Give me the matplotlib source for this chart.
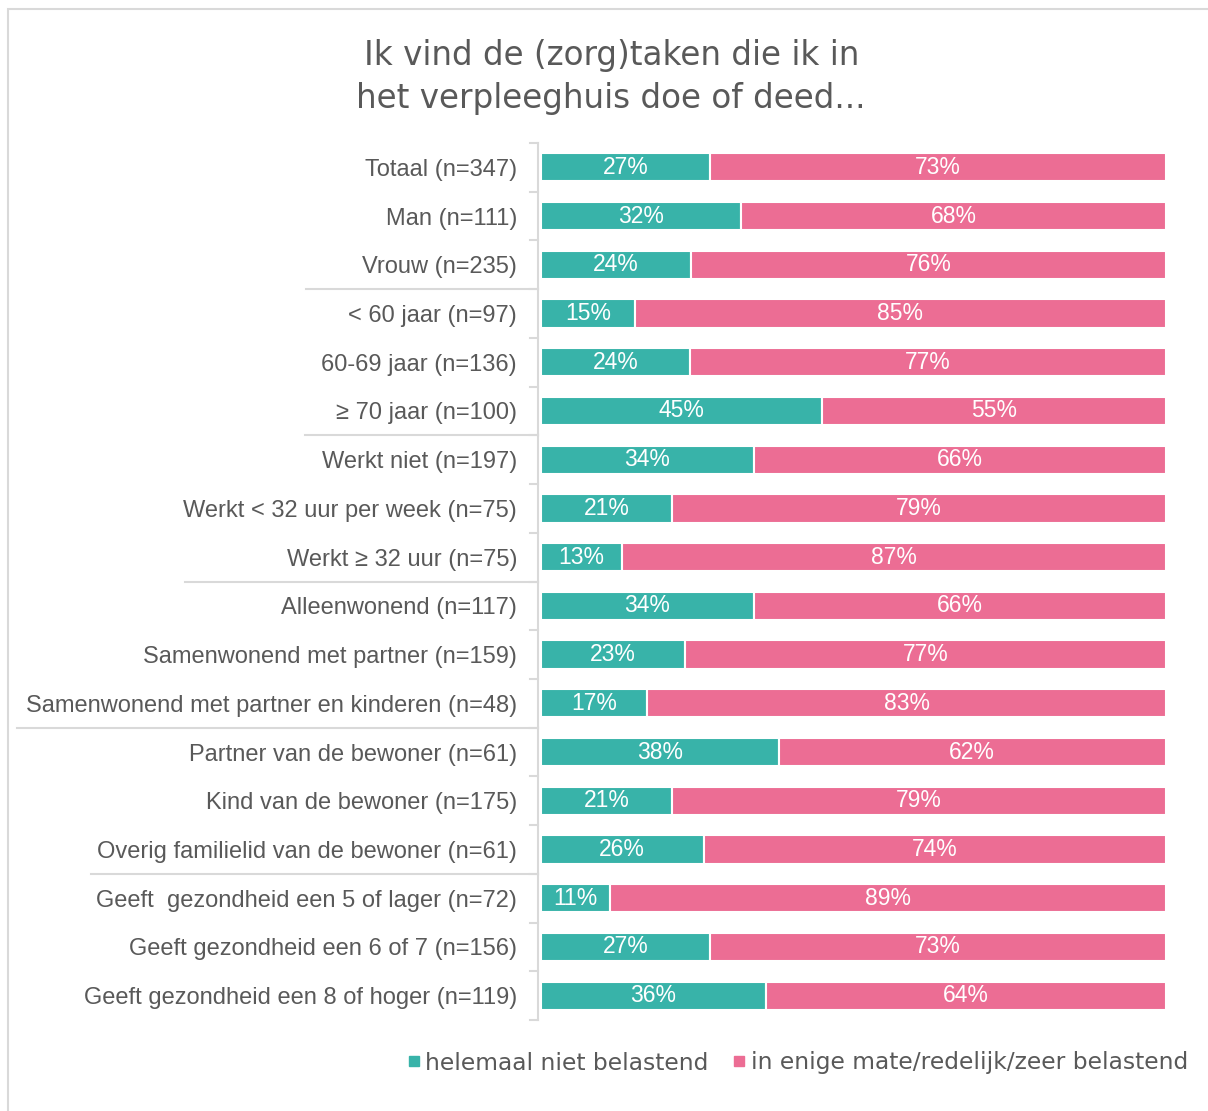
import numpy as np
import matplotlib
matplotlib.use("Agg")
import matplotlib.pyplot as plt
from matplotlib.lines import Line2D
from matplotlib.patches import Rectangle

plt.rcParams["font.family"] = ["Liberation Sans", "DejaVu Sans"]

categories = [
    "Totaal (n=347)", "Man (n=111)", "Vrouw (n=235)",
    "< 60 jaar (n=97)", "60-69 jaar (n=136)", "\u2265 70 jaar (n=100)",
    "Werkt niet (n=197)", "Werkt < 32 uur per week (n=75)", "Werkt \u2265 32 uur (n=75)",
    "Alleenwonend (n=117)", "Samenwonend met partner (n=159)",
    "Samenwonend met partner en kinderen (n=48)",
    "Partner van de bewoner (n=61)", "Kind van de bewoner (n=175)",
    "Overig familielid van de bewoner (n=61)",
    "Geeft  gezondheid een 5 of lager (n=72)", "Geeft gezondheid een 6 of 7 (n=156)",
    "Geeft gezondheid een 8 of hoger (n=119)",
]
niet_belastend = [27, 32, 24, 15, 24, 45, 34, 21, 13, 34, 23, 17, 38, 21, 26, 11, 27, 36]
wel_belastend = [73, 68, 76, 85, 77, 55, 66, 79, 87, 66, 77, 83, 62, 79, 74, 89, 73, 64]
# group breaks: index of last category in each group, and how far the separator reaches left (axes fraction)
group_ends = [2, 5, 8, 11, 14]
sep_reach = [-0.376, -0.378, -0.57, -0.838, -0.72]

TEAL = "#38B3A9"
PINK = "#EC6D94"
GREY = "#595959"

W, H = 1208, 1111
fig = plt.figure(figsize=(W / 100, H / 100), dpi=100)
ax = fig.add_axes([541 / W, 1 - 1020 / H, 625 / W, 877 / H])

teal = np.array(niet_belastend, float)
pink = np.array(wel_belastend, float)
tot = teal + pink
t_share = teal / tot * 100
p_share = pink / tot * 100
y = np.arange(len(categories))

ax.barh(y, t_share, height=0.58, color=TEAL, edgecolor="white", linewidth=1.5)
ax.barh(y, p_share, left=t_share, height=0.58, color=PINK, edgecolor="white", linewidth=1.5)

for i in range(len(categories)):
    ax.text(t_share[i] / 2, y[i], f"{niet_belastend[i]}%", ha="center", va="center",
            color="white", fontsize=16.5)
    ax.text(t_share[i] + p_share[i] / 2, y[i], f"{wel_belastend[i]}%", ha="center", va="center",
            color="white", fontsize=16.5)

ax.set_xlim(0, 100)
ax.set_ylim(len(categories) - 0.5, -0.5)
ax.set_xticks([])
ax.set_yticks(y)
ax.set_yticklabels(categories)
ax.tick_params(axis="y", length=0, pad=15, labelsize=17, labelcolor=GREY)
for s in ["top", "right", "bottom"]:
    ax.spines[s].set_visible(False)
ax.spines["left"].set_color("#D9D9D9")
ax.spines["left"].set_linewidth(1.5)
ax.spines["left"].set_position(("axes", -0.005))

# minor ticks between categories
trans = ax.get_yaxis_transform()
for b in np.arange(-0.5, len(categories), 1.0):
    ax.add_line(Line2D([-0.017, -0.005], [b, b], transform=trans, color="#D9D9D9",
                       lw=1.5, clip_on=False))
for e, r in zip(group_ends, sep_reach):
    ax.add_line(Line2D([r, -0.005], [e + 0.5, e + 0.5], transform=trans, color="#D9D9D9",
                       lw=1.5, clip_on=False))

fig.text(0.506, 1 - 77 / H, "Ik vind de (zorg)taken die ik in\nhet verpleeghuis doe of deed...",
         ha="center", va="center", fontsize=23.5, color=GREY, family=["DejaVu Sans"],
         linespacing=1.35)

# legend
handles = [Line2D([], [], marker="s", ls="", color=TEAL, markersize=7),
           Line2D([], [], marker="s", ls="", color=PINK, markersize=7)]
fig.legend(handles, ["helemaal niet belastend", "in enige mate/redelijk/zeer belastend"],
           loc="center", bbox_to_anchor=(796 / W, 1 - 1063 / H), ncol=2, frameon=False,
           prop={"family": ["DejaVu Sans"], "size": 16.8}, labelcolor=GREY,
           handletextpad=0.1, columnspacing=0.9, handlelength=0.8)

# outer border
fig.patches.append(Rectangle((8 / W, -0.01), 1.1, 1 - 9 / H + 0.01, transform=fig.transFigure,
                             fill=False, edgecolor="#D9D9D9", lw=1.5))

fig.savefig("out.png", dpi=100)
